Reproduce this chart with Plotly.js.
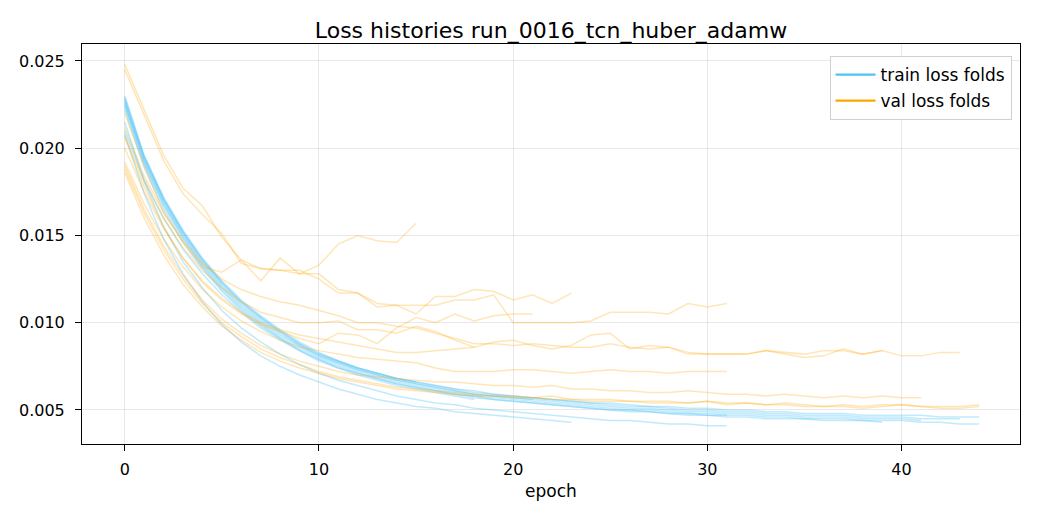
<!DOCTYPE html>
<html>
<head>
<meta charset="utf-8">
<script src="https://cdn.plot.ly/plotly-3.0.1.min.js"></script>
<style>
  html, body { margin: 0; padding: 0; background: #fff; }
  #chart { width: 1040px; height: 520px; }
</style>
</head>
<body>
<div id="chart"></div>
<script>
// loss per epoch, one array per fold (folds stop early at different epochs)
var trainFolds = [
  [0.0229,0.0195,0.0171,0.0152,0.0136,0.0123,0.0112,0.0103,0.0095,0.0088,0.0082,0.0078,0.0074,0.0071,0.0068,0.0066],
  [0.0208,0.0174,0.0148,0.0128,0.0112,0.0099,0.0089,0.0081,0.0075,0.0070,0.0066,0.0062,0.0059,0.0056,0.0054,0.0052,0.0051,0.0049,0.0048,0.0047,0.0046,0.0045,0.0044,0.0043],
  [0.0226,0.0193,0.0169,0.0150,0.0134,0.0121,0.0110,0.0101,0.0093,0.0087,0.0081,0.0077,0.0073,0.0070,0.0067,0.0065,0.0063,0.0061,0.0059,0.0058,0.0057,0.0056],
  [0.0224,0.0191,0.0167,0.0148,0.0132,0.0119,0.0108,0.0099,0.0091,0.0085,0.0079,0.0075,0.0071,0.0068,0.0065,0.0063,0.0061,0.0059,0.0058,0.0056,0.0055,0.0054,0.0053,0.0052,0.0051,0.0050,0.0050,0.0049,0.0048,0.0048,0.0047,0.0047],
  [0.0215,0.0181,0.0155,0.0135,0.0120,0.0107,0.0097,0.0089,0.0082,0.0076,0.0071,0.0067,0.0064,0.0061,0.0058,0.0056,0.0054,0.0053,0.0051,0.0050,0.0049,0.0048,0.0047,0.0046,0.0045,0.0044,0.0044,0.0043,0.0042,0.0042,0.0041,0.0041],
  [0.0230,0.0196,0.0172,0.0153,0.0137,0.0124,0.0113,0.0104,0.0096,0.0089,0.0083,0.0078,0.0074,0.0071,0.0068,0.0066,0.0064,0.0062,0.0060,0.0059,0.0058,0.0057,0.0056,0.0055,0.0054,0.0053,0.0052,0.0052,0.0051,0.0050,0.0050,0.0049,0.0049,0.0048,0.0048,0.0047,0.0047,0.0047,0.0046,0.0046,0.0046,0.0045,0.0045,0.0045],
  [0.0222,0.0189,0.0165,0.0146,0.0131,0.0118,0.0107,0.0098,0.0091,0.0084,0.0079,0.0074,0.0071,0.0068,0.0065,0.0063,0.0061,0.0059,0.0057,0.0056,0.0055,0.0054,0.0053,0.0052,0.0051,0.0050,0.0049,0.0049,0.0048,0.0047,0.0047,0.0046,0.0046,0.0045,0.0045,0.0045,0.0044,0.0044,0.0044,0.0043],
  [0.0227,0.0194,0.0170,0.0151,0.0135,0.0122,0.0111,0.0102,0.0094,0.0087,0.0081,0.0077,0.0073,0.0070,0.0067,0.0065,0.0063,0.0061,0.0059,0.0058,0.0057,0.0056,0.0055,0.0054,0.0053,0.0052,0.0051,0.0051,0.0050,0.0049,0.0049,0.0048,0.0048,0.0047,0.0047,0.0046,0.0046,0.0046,0.0045,0.0045,0.0045,0.0044],
  [0.0228,0.0195,0.0171,0.0152,0.0136,0.0123,0.0112,0.0103,0.0095,0.0088,0.0082,0.0078,0.0074,0.0071,0.0068,0.0066,0.0064,0.0062,0.0061,0.0059,0.0058,0.0057,0.0056,0.0055,0.0054,0.0054,0.0053,0.0052,0.0052,0.0051,0.0051,0.0050,0.0050,0.0049,0.0049,0.0048,0.0048,0.0048,0.0047,0.0047,0.0047,0.0047,0.0046,0.0046,0.0046],
  [0.0225,0.0192,0.0168,0.0149,0.0133,0.0120,0.0109,0.0100,0.0092,0.0086,0.0080,0.0076,0.0072,0.0069,0.0066,0.0064,0.0062,0.0060,0.0058,0.0057,0.0056,0.0055,0.0054,0.0053,0.0052,0.0051,0.0050,0.0050,0.0049,0.0048,0.0048,0.0047,0.0047,0.0046,0.0046,0.0045,0.0045,0.0045,0.0044,0.0044,0.0044,0.0043,0.0043,0.0042,0.0042],
  [0.0210,0.0182,0.0160,0.0142,0.0128,0.0116,0.0106,0.0097,0.0090,0.0084,0.0078,0.0074,0.0070,0.0067,0.0064,0.0062,0.0060,0.0058,0.0056]
];

var valFolds = [
  [0.0220,0.0190,0.0163,0.0146,0.0132,0.0129,0.0136,0.0124,0.0137,0.0128,0.0133,0.0145,0.0150,0.0147,0.0146,0.0157],
  [0.0248,0.0222,0.0196,0.0177,0.0167,0.0149,0.0136,0.0131,0.0130,0.0130,0.0125,0.0117,0.0117,0.0111,0.0110,0.0105,0.0115,0.0115,0.0119,0.0118,0.0113,0.0116,0.0111,0.0117],
  [0.0206,0.0178,0.0155,0.0137,0.0123,0.0113,0.0105,0.0099,0.0095,0.0091,0.0088,0.0094,0.0093,0.0088,0.0097,0.0103,0.0100,0.0105,0.0101,0.0104,0.0105,0.0105],
  [0.0245,0.0219,0.0193,0.0174,0.0162,0.0151,0.0134,0.0131,0.0130,0.0128,0.0128,0.0119,0.0117,0.0109,0.0110,0.0110,0.0110,0.0113,0.0113,0.0116,0.0100,0.0100,0.0100,0.0100,0.0101,0.0106,0.0106,0.0106,0.0105,0.0111,0.0109,0.0111],
  [0.0192,0.0168,0.0148,0.0132,0.0119,0.0109,0.0101,0.0095,0.0090,0.0086,0.0084,0.0082,0.0080,0.0079,0.0078,0.0077,0.0074,0.0072,0.0072,0.0072,0.0073,0.0073,0.0072,0.0071,0.0072,0.0073,0.0072,0.0072,0.0071,0.0072,0.0072,0.0072],
  [0.0207,0.0181,0.0160,0.0143,0.0130,0.0120,0.0112,0.0106,0.0103,0.0100,0.0100,0.0101,0.0096,0.0096,0.0094,0.0098,0.0095,0.0090,0.0086,0.0089,0.0090,0.0087,0.0085,0.0087,0.0093,0.0094,0.0085,0.0087,0.0086,0.0082,0.0082,0.0082,0.0082,0.0084,0.0083,0.0082,0.0084,0.0084,0.0082,0.0084,0.0081,0.0081,0.0083,0.0083],
  [0.0212,0.0184,0.0163,0.0147,0.0134,0.0125,0.0119,0.0115,0.0112,0.0110,0.0107,0.0104,0.0100,0.0100,0.0098,0.0097,0.0094,0.0091,0.0088,0.0088,0.0087,0.0088,0.0087,0.0086,0.0086,0.0088,0.0086,0.0085,0.0086,0.0083,0.0082,0.0082,0.0082,0.0084,0.0082,0.0080,0.0081,0.0085,0.0082,0.0084],
  [0.0190,0.0165,0.0144,0.0127,0.0113,0.0102,0.0094,0.0087,0.0082,0.0078,0.0075,0.0072,0.0070,0.0069,0.0068,0.0067,0.0066,0.0066,0.0065,0.0064,0.0064,0.0063,0.0064,0.0062,0.0062,0.0061,0.0061,0.0060,0.0060,0.0061,0.0060,0.0059,0.0059,0.0058,0.0059,0.0058,0.0057,0.0058,0.0057,0.0058,0.0057,0.0057],
  [0.0188,0.0163,0.0142,0.0125,0.0111,0.0100,0.0092,0.0085,0.0080,0.0076,0.0072,0.0069,0.0067,0.0065,0.0063,0.0062,0.0061,0.0060,0.0059,0.0058,0.0058,0.0057,0.0058,0.0056,0.0056,0.0056,0.0055,0.0055,0.0055,0.0054,0.0055,0.0054,0.0054,0.0053,0.0054,0.0053,0.0052,0.0053,0.0052,0.0053,0.0053,0.0052,0.0052,0.0052,0.0053],
  [0.0186,0.0160,0.0139,0.0122,0.0109,0.0098,0.0090,0.0083,0.0078,0.0074,0.0071,0.0068,0.0066,0.0064,0.0062,0.0061,0.0060,0.0059,0.0058,0.0058,0.0057,0.0057,0.0056,0.0056,0.0055,0.0055,0.0055,0.0054,0.0054,0.0054,0.0055,0.0053,0.0054,0.0053,0.0053,0.0052,0.0052,0.0052,0.0051,0.0052,0.0053,0.0052,0.0051,0.0051,0.0052],
  [0.0200,0.0175,0.0154,0.0137,0.0124,0.0114,0.0106,0.0100,0.0096,0.0093,0.0091,0.0089,0.0087,0.0085,0.0083,0.0083,0.0084,0.0085,0.0086]
];

var xTicks = [0, 10, 20, 30, 40];
var yTicks = [0.005, 0.010, 0.015, 0.020, 0.025];

var TRAIN = '#4fc3f7';
var VAL = '#ffa500';

function epochs(n) {
    var e = [];
    for (var i = 0; i < n; i++) e.push(i);
    return e;
}

var data = [];

trainFolds.forEach(function (ys) {
    data.push({
        type: 'scatter', mode: 'lines',
        x: epochs(ys.length), y: ys,
        line: {color: 'rgba(79,195,247,0.35)', width: 1.6},
        showlegend: false, hoverinfo: 'skip'
    });
});

valFolds.forEach(function (ys) {
    data.push({
        type: 'scatter', mode: 'lines',
        x: epochs(ys.length), y: ys,
        line: {color: 'rgba(255,165,0,0.28)', width: 1.5},
        showlegend: false, hoverinfo: 'skip'
    });
});

// legend-only entries so the legend swatches are opaque
data.push({type: 'scatter', mode: 'lines', x: [null], y: [null],
    name: 'train loss folds', legendgroup: 'train', line: {color: TRAIN, width: 2.2}});
data.push({type: 'scatter', mode: 'lines', x: [null], y: [null],
    name: 'val loss folds', legendgroup: 'val', line: {color: VAL, width: 2.2}});

var axisCommon = {
    showline: true, mirror: true, linecolor: '#000', linewidth: 1,
    ticks: 'outside', ticklen: 6, tickwidth: 1, tickcolor: '#000',
    showgrid: true, gridcolor: 'rgba(0,0,0,0.09)', gridwidth: 1,
    zeroline: false,
    tickfont: {size: 16, color: '#000'}
};

var layout = {
    width: 1040, height: 520,
    margin: {l: 82, r: 20, t: 44, b: 76},
    paper_bgcolor: '#fff', plot_bgcolor: '#fff',
    font: {family: 'DejaVu Sans, sans-serif', color: '#000'},
    title: {text: 'Loss histories run_0016_tcn_huber_adamw',
        font: {size: 22, color: '#000'}, xref: 'paper', x: 0.5, xanchor: 'center',
        y: 0.942, yanchor: 'middle'},
    xaxis: Object.assign({}, axisCommon, {
        range: [-2.2, 46.1], tickvals: xTicks, ticktext: xTicks.map(String),
        ticklabelstandoff: 5,
        title: {text: 'epoch', font: {size: 17, color: '#000'}, standoff: 6}
    }),
    yaxis: Object.assign({}, axisCommon, {
        range: [0.00305, 0.02597], tickvals: yTicks,
        ticklabelstandoff: 7,
        ticktext: yTicks.map(function (v) { return v.toFixed(3); })
    }),
    legend: {
        x: 0.991, xanchor: 'right', y: 0.97, yanchor: 'top',
        traceorder: 'grouped', tracegroupgap: 1, itemwidth: 40,
        bgcolor: 'rgba(255,255,255,0.9)', bordercolor: '#d0d0d0', borderwidth: 1,
        font: {size: 17, color: '#000'}
    }
};

Plotly.newPlot('chart', data, layout, {displayModeBar: false, staticPlot: true});
</script>
</body>
</html>
